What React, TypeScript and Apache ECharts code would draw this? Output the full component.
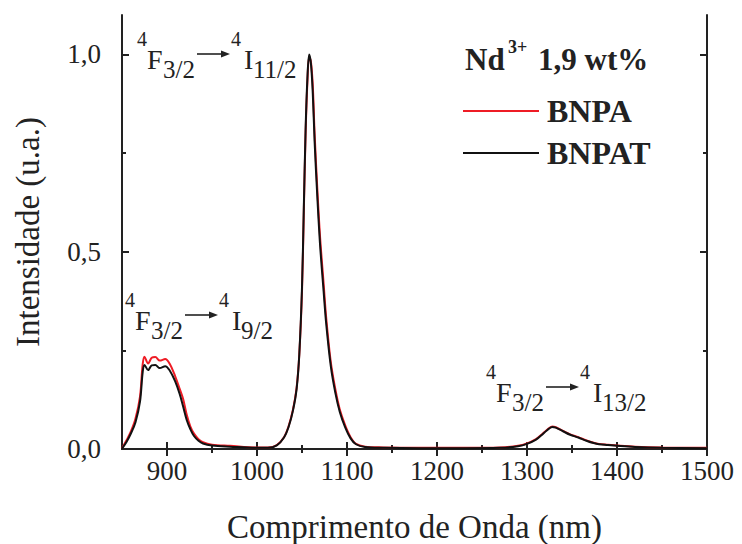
import React, { useEffect, useRef } from 'react';
import * as echarts from 'echarts';

const FONT = "'Liberation Serif', 'Times New Roman', serif";
const INK = '#222';

const wavelength = [850, 855, 860, 865, 870, 873, 875, 879, 883, 887, 892, 898, 903, 909, 914, 918, 922, 926, 930, 935, 940, 950, 970, 1000, 1012, 1022, 1030, 1035, 1040, 1044, 1047, 1050, 1052, 1054, 1056, 1058, 1060, 1062, 1064, 1067, 1070, 1074, 1077, 1082, 1087, 1092, 1098, 1104, 1110, 1120, 1140, 1180, 1230, 1270, 1290, 1300, 1310, 1316, 1322, 1328, 1332, 1340, 1348, 1357, 1366, 1374, 1380, 1390, 1400, 1420, 1450, 1500];

const bnpa = [0.002, 0.022, 0.045, 0.077, 0.133, 0.215, 0.234, 0.217, 0.231, 0.233, 0.224, 0.228, 0.216, 0.185, 0.153, 0.126, 0.086, 0.057, 0.039, 0.025, 0.017, 0.011, 0.008, 0.004, 0.004, 0.01, 0.03, 0.057, 0.1, 0.155, 0.24, 0.4, 0.6, 0.8, 0.93, 0.995, 0.98, 0.92, 0.8, 0.66, 0.54, 0.42, 0.33, 0.22, 0.152, 0.1, 0.06, 0.03, 0.013, 0.006, 0.004, 0.003, 0.003, 0.004, 0.008, 0.014, 0.025, 0.036, 0.048, 0.057, 0.055, 0.046, 0.037, 0.03, 0.022, 0.016, 0.013, 0.011, 0.009, 0.006, 0.004, 0.003];

const bnpat = [0.001, 0.018, 0.04, 0.068, 0.12, 0.195, 0.213, 0.2, 0.212, 0.213, 0.205, 0.21, 0.199, 0.172, 0.14, 0.107, 0.073, 0.05, 0.033, 0.021, 0.014, 0.009, 0.006, 0.003, 0.003, 0.009, 0.029, 0.055, 0.098, 0.152, 0.24, 0.41, 0.61, 0.81, 0.94, 1.0, 0.975, 0.9, 0.78, 0.64, 0.52, 0.4, 0.315, 0.21, 0.143, 0.094, 0.055, 0.027, 0.012, 0.005, 0.003, 0.002, 0.002, 0.003, 0.007, 0.013, 0.024, 0.035, 0.047, 0.056, 0.054, 0.045, 0.036, 0.029, 0.021, 0.015, 0.012, 0.01, 0.008, 0.005, 0.003, 0.002];

const xTickLabels = [900, 1000, 1100, 1200, 1300, 1400, 1500];
const xMinorTicks = [950, 1050, 1150, 1250, 1350, 1450];
const yTickLabels = [0, 0.5, 1.0];
const yMinorTicks = [0.25, 0.75];

const seriesNames = ['BNPA', 'BNPAT'];
const seriesColors = ['#ee1c25', '#111111'];
const legendTitle = 'Nd';
const legendSup = '3+';
const legendRest = '1,9 wt%';
const transitionLower = ['11/2', '9/2', '13/2'];

function txt(x: number, baseline: number, s: string, size: number, bold = false) {
  return {
    type: 'text',
    x,
    y: baseline - 0.3375 * size,
    silent: true,
    style: {
      text: s,
      fontSize: size,
      fontFamily: FONT,
      fontWeight: bold ? 'bold' : 'normal',
      fill: INK,
      align: 'left',
      verticalAlign: 'middle',
    },
  };
}

function transition(x0: number, capTop: number, lower: string) {
  const ay = capTop + 4;
  return [
    txt(x0, capTop - 4, '4', 20),
    txt(x0 + 10, capTop + 19, 'F', 28),
    txt(x0 + 26, capTop + 28, '3/2', 25),
    {
      type: 'line',
      silent: true,
      shape: { x1: x0 + 60, y1: ay, x2: x0 + 86, y2: ay },
      style: { stroke: INK, lineWidth: 1.6 },
    },
    {
      type: 'polygon',
      silent: true,
      shape: { points: [[x0 + 84, ay - 3.5], [x0 + 93, ay], [x0 + 84, ay + 3.5]] },
      style: { fill: INK },
    },
    txt(x0 + 94, capTop - 4, '4', 20),
    txt(x0 + 107, capTop + 19, 'I', 28),
    txt(x0 + 116, capTop + 28, lower, 25),
  ];
}

const fmtY = (v: number) => v.toFixed(1).replace('.', ',');
const fmtX = (v: number) => String(Math.round(v));

export default function App() {
  const ref = useRef<HTMLDivElement>(null);
  useEffect(() => {
    if (!ref.current) return;
    const chart = echarts.init(ref.current, null, { renderer: 'svg' });
    const axisLineStyle = { color: INK, width: 2 };
    const xBase = { type: 'value', min: 850, max: 1500, interval: 50, splitLine: { show: false } };
    const yBase = { type: 'value', min: 0, max: 1.1, interval: 0.25, splitLine: { show: false } };
    const option: any = {
      animation: false,
      backgroundColor: '#fff',
      grid: { left: 122, top: 15, right: 35, bottom: 95, containLabel: false, outerBoundsMode: 'none' },
      legend: {
        data: seriesNames,
        orient: 'vertical',
        left: 463,
        top: 95,
        padding: 0,
        icon: 'rect',
        itemWidth: 76,
        itemHeight: 2,
        itemGap: 10,
        textStyle: { fontSize: 32, fontWeight: 'bold', fontFamily: FONT, color: INK, padding: [0, 0, 0, 3] },
      },
      xAxis: [
        {
          ...xBase,
          position: 'bottom',
          name: 'Comprimento de Onda (nm)',
          nameLocation: 'middle',
          nameGap: 61,
          nameTextStyle: { fontSize: 33, fontFamily: FONT, color: INK },
          axisLine: { show: true, lineStyle: axisLineStyle },
          axisTick: { show: true, inside: true, length: 7, customValues: xTickLabels, lineStyle: axisLineStyle },
          axisLabel: { customValues: xTickLabels, formatter: fmtX, fontSize: 27, fontFamily: FONT, color: INK, margin: 8 },
        },
        {
          ...xBase,
          position: 'top',
          axisLine: { show: true, lineStyle: axisLineStyle },
          axisTick: { show: true, inside: true, length: 7, customValues: xTickLabels, lineStyle: axisLineStyle },
          axisLabel: { show: false },
        },
        {
          ...xBase,
          position: 'bottom',
          axisLine: { show: false },
          axisTick: { show: true, inside: true, length: 4, customValues: xMinorTicks, lineStyle: axisLineStyle },
          axisLabel: { show: false },
        },
        {
          ...xBase,
          position: 'top',
          axisLine: { show: false },
          axisTick: { show: true, inside: true, length: 4, customValues: xMinorTicks, lineStyle: axisLineStyle },
          axisLabel: { show: false },
        },
      ],
      yAxis: [
        {
          ...yBase,
          position: 'left',
          name: 'Intensidade (u.a.)',
          nameLocation: 'middle',
          nameGap: 78,
          nameTextStyle: { fontSize: 33, fontFamily: FONT, color: INK },
          axisLine: { show: true, lineStyle: axisLineStyle },
          axisTick: { show: true, inside: true, length: 7, customValues: yTickLabels, lineStyle: axisLineStyle },
          axisLabel: { customValues: yTickLabels, formatter: fmtY, fontSize: 27, fontFamily: FONT, color: INK, margin: 21 },
        },
        {
          ...yBase,
          position: 'right',
          axisLine: { show: true, lineStyle: axisLineStyle },
          axisTick: { show: true, inside: true, length: 7, customValues: yTickLabels, lineStyle: axisLineStyle },
          axisLabel: { show: false },
        },
        {
          ...yBase,
          position: 'left',
          axisLine: { show: false },
          axisTick: { show: true, inside: true, length: 4, customValues: yMinorTicks, lineStyle: axisLineStyle },
          axisLabel: { show: false },
        },
        {
          ...yBase,
          position: 'right',
          axisLine: { show: false },
          axisTick: { show: true, inside: true, length: 4, customValues: yMinorTicks, lineStyle: axisLineStyle },
          axisLabel: { show: false },
        },
      ],
      series: [
        {
          name: seriesNames[0],
          type: 'line',
          xAxisIndex: 0,
          yAxisIndex: 0,
          data: wavelength.map((w, i) => [w, bnpa[i]]),
          showSymbol: false,
          symbol: 'none',
          smooth: 0.35,
          lineStyle: { color: seriesColors[0], width: 2 },
          itemStyle: { color: seriesColors[0] },
        },
        {
          name: seriesNames[1],
          type: 'line',
          xAxisIndex: 0,
          yAxisIndex: 0,
          data: wavelength.map((w, i) => [w, bnpat[i]]),
          showSymbol: false,
          symbol: 'none',
          smooth: 0.35,
          lineStyle: { color: seriesColors[1], width: 2 },
          itemStyle: { color: seriesColors[1] },
        },
      ],
      graphic: [
        txt(465, 70, legendTitle, 31, true),
        txt(508, 53, legendSup, 18, true),
        txt(538, 70, legendRest, 31, true),
        ...transition(137, 50, transitionLower[0]),
        ...transition(125, 311, transitionLower[1]),
        ...transition(486, 383, transitionLower[2]),
      ],
    };
    chart.setOption(option);
    return () => chart.dispose();
  }, []);
  return <div ref={ref} style={{ position: 'fixed', left: 0, top: 0, width: 742, height: 544 }} />;
}
